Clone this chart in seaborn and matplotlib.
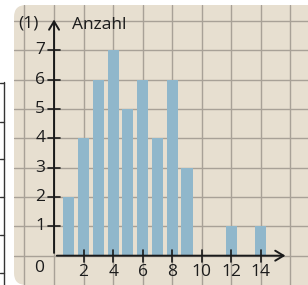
import matplotlib
matplotlib.use("Agg")
import matplotlib.pyplot as plt
import seaborn as sns
import pandas as pd
from matplotlib.patches import FancyBboxPatch
from matplotlib.lines import Line2D
from matplotlib.transforms import IdentityTransform

# Data
werte = [1, 2, 3, 4, 5, 6, 7, 8, 9, 10, 11, 12, 13, 14]
anzahl = [2, 4, 6, 7, 5, 6, 4, 6, 3, 0, 0, 1, 0, 1]
x_ticks = [2, 4, 6, 8, 10, 12, 14]
y_ticks = [1, 2, 3, 4, 5, 6, 7]
y_label = "Anzahl"
panel_label = "(1)"

sns.set_theme(style="white")
plt.rcParams['font.family'] = ['Open Sans', 'DejaVu Sans']

fig = plt.figure(figsize=(3.08, 2.85), dpi=100, facecolor="white")

# paper panel (pixel coordinates)
panel = FancyBboxPatch((14, 0), 320, 280, boxstyle="round,pad=0,rounding_size=12",
                       transform=IdentityTransform(), facecolor="#e7dfd0",
                       edgecolor="none", zorder=-10)
fig.patches.append(panel)

# table fragment at left edge
for yy in [83, 122, 159, 197, 235, 273]:
    fig.lines.append(Line2D([0, 4], [285 - yy, 285 - yy], transform=IdentityTransform(),
                            color="#333333", lw=1, zorder=-5))
fig.lines.append(Line2D([4, 4], [0, 285 - 82], transform=IdentityTransform(),
                        color="#333333", lw=1, zorder=-5))

ax = fig.add_axes([14 / 308, 0, 294 / 308, 280 / 285])
ax.set_zorder(5)
ax.set_facecolor("none")
ax.patch.set_alpha(0)

df = pd.DataFrame({"Wert": werte, "Anzahl": anzahl})
sns.barplot(data=df, x="Wert", y="Anzahl", native_scale=True, width=0.75,
            color="#90b7cb", saturation=1, edgecolor="none", ax=ax, zorder=2)

ax.set_xlim(-2.71, 17.19)
ax.set_ylim(-1.0, 8.55)

# paper grid
for gx in range(-2, 18, 2):
    ax.axvline(gx, color="#a8a197", lw=1.0, zorder=1)
for gy in range(0, 9):
    ax.axhline(gy, color="#a8a197", lw=1.0, zorder=1)

for s in ax.spines.values():
    s.set_visible(False)
ax.set_xticks([])
ax.set_yticks([])
ax.set_xlabel("")
ax.set_ylabel("")

# axes with arrows
ax.annotate("", xy=(15.85, 0), xytext=(0, 0),
            arrowprops=dict(arrowstyle="->,head_length=0.5,head_width=0.3", color="#1a1a1a", lw=1.4),
            zorder=4)
ax.annotate("", xy=(0, 8.15), xytext=(0, 0),
            arrowprops=dict(arrowstyle="->,head_length=0.5,head_width=0.3", color="#1a1a1a", lw=1.4),
            zorder=4)

fs = 12.5
tc = "#1c1c1c"
for t in x_ticks:
    ax.plot([t, t], [-0.2, 0.2], color="#1a1a1a", lw=1.2, zorder=4)
    ax.text(t, -0.57, str(t), ha="center", va="center", fontsize=fs, color=tc)
for t in y_ticks:
    ax.plot([-0.4, 0.4], [t, t], color="#1a1a1a", lw=1.2, zorder=4)
    ax.text(-0.6, t, str(t), ha="right", va="center", fontsize=fs, color=tc)
ax.text(-0.7, -0.42, "0", ha="right", va="center", fontsize=fs, color=tc)

ax.text(1.2, 7.88, y_label, ha="left", va="center", fontsize=fs, color=tc)
ax.text(-2.45, 7.92, panel_label, ha="left", va="center", fontsize=fs, color=tc)

fig.savefig("out.png", dpi=100, facecolor="white")
